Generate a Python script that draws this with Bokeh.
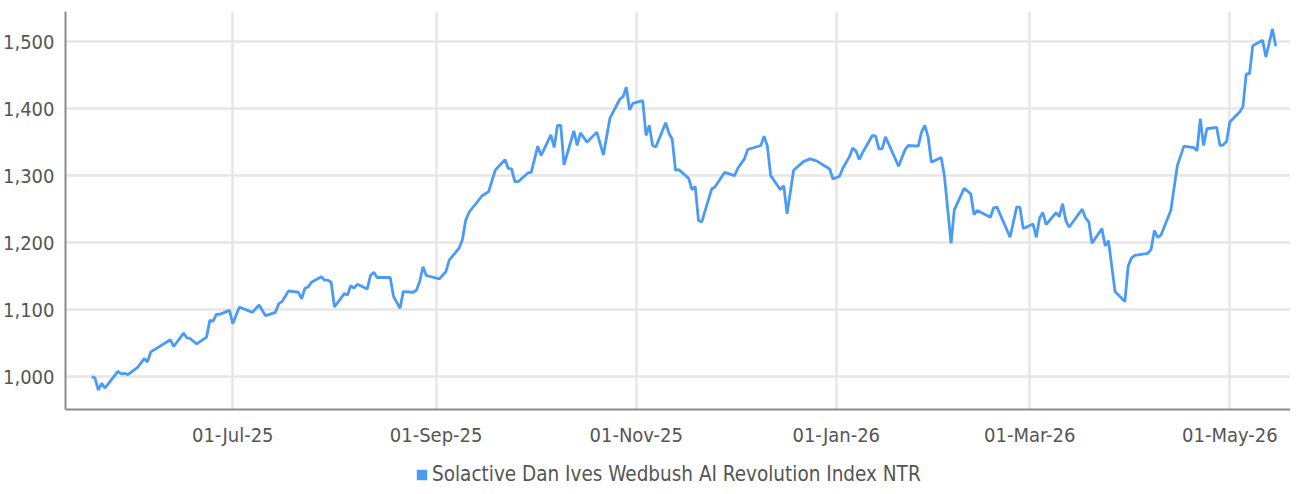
from datetime import datetime
from bokeh.plotting import figure
from bokeh.layouts import column
from bokeh.models import (ColumnDataSource, Range1d, FixedTicker, DatetimeTickFormatter,
                          NumeralTickFormatter, Legend, LegendItem)
from bokeh.embed import file_html
from bokeh.resources import INLINE

series_name = "Solactive Dan Ives Wedbush AI Revolution Index NTR"

dates = [
    "2025-05-19", "2025-05-20", "2025-05-21", "2025-05-22", "2025-05-23", "2025-05-27", "2025-05-28",
    "2025-05-29", "2025-05-30", "2025-06-02", "2025-06-04", "2025-06-05", "2025-06-06", "2025-06-12",
    "2025-06-13", "2025-06-16", "2025-06-17", "2025-06-18", "2025-06-20", "2025-06-23", "2025-06-24",
    "2025-06-25", "2025-06-26", "2025-06-27", "2025-06-30", "2025-07-01", "2025-07-03", "2025-07-07",
    "2025-07-09", "2025-07-11", "2025-07-14", "2025-07-15", "2025-07-16", "2025-07-18", "2025-07-21",
    "2025-07-22", "2025-07-23", "2025-07-24", "2025-07-25", "2025-07-28", "2025-07-29", "2025-07-30",
    "2025-07-31", "2025-08-01", "2025-08-04", "2025-08-05", "2025-08-06", "2025-08-07", "2025-08-08",
    "2025-08-11", "2025-08-12", "2025-08-13", "2025-08-14", "2025-08-18", "2025-08-19", "2025-08-21",
    "2025-08-22", "2025-08-25", "2025-08-26", "2025-08-27", "2025-08-28", "2025-08-29", "2025-09-02",
    "2025-09-04", "2025-09-05", "2025-09-08", "2025-09-09", "2025-09-10", "2025-09-11", "2025-09-15",
    "2025-09-17", "2025-09-19", "2025-09-22", "2025-09-23", "2025-09-24", "2025-09-25", "2025-09-26",
    "2025-09-29", "2025-09-30", "2025-10-02", "2025-10-03", "2025-10-06", "2025-10-07", "2025-10-08",
    "2025-10-09", "2025-10-10", "2025-10-13", "2025-10-14", "2025-10-15", "2025-10-17", "2025-10-20",
    "2025-10-22", "2025-10-24", "2025-10-27", "2025-10-28", "2025-10-29", "2025-10-30", "2025-10-31",
    "2025-11-03", "2025-11-04", "2025-11-05", "2025-11-06", "2025-11-07", "2025-11-10", "2025-11-11",
    "2025-11-12", "2025-11-13", "2025-11-14", "2025-11-17", "2025-11-18", "2025-11-19", "2025-11-20",
    "2025-11-21", "2025-11-24", "2025-11-25", "2025-11-28", "2025-12-01", "2025-12-02", "2025-12-04",
    "2025-12-05", "2025-12-09", "2025-12-10", "2025-12-11", "2025-12-12", "2025-12-15", "2025-12-16",
    "2025-12-17", "2025-12-19", "2025-12-22", "2025-12-24", "2025-12-26", "2025-12-30", "2025-12-31",
    "2026-01-02", "2026-01-03", "2026-01-05", "2026-01-06", "2026-01-07", "2026-01-08", "2026-01-09",
    "2026-01-12", "2026-01-13", "2026-01-14", "2026-01-15", "2026-01-16", "2026-01-20", "2026-01-22",
    "2026-01-23", "2026-01-26", "2026-01-27", "2026-01-28", "2026-01-29", "2026-01-30", "2026-02-02",
    "2026-02-03", "2026-02-04", "2026-02-05", "2026-02-06", "2026-02-09", "2026-02-11", "2026-02-12",
    "2026-02-13", "2026-02-17", "2026-02-18", "2026-02-19", "2026-02-23", "2026-02-25", "2026-02-26",
    "2026-02-27", "2026-03-02", "2026-03-03", "2026-03-04", "2026-03-05", "2026-03-06", "2026-03-09",
    "2026-03-10", "2026-03-11", "2026-03-12", "2026-03-13", "2026-03-17", "2026-03-18", "2026-03-19",
    "2026-03-20", "2026-03-23", "2026-03-24", "2026-03-25", "2026-03-27", "2026-03-30", "2026-03-31",
    "2026-04-01", "2026-04-02", "2026-04-06", "2026-04-07", "2026-04-08", "2026-04-09", "2026-04-10",
    "2026-04-13", "2026-04-15", "2026-04-17", "2026-04-20", "2026-04-21", "2026-04-22", "2026-04-23",
    "2026-04-24", "2026-04-27", "2026-04-28", "2026-04-29", "2026-04-30", "2026-05-01", "2026-05-04",
    "2026-05-05", "2026-05-06", "2026-05-07", "2026-05-08", "2026-05-11", "2026-05-12", "2026-05-14",
    "2026-05-15",
]

values = [
    1000, 998, 980, 990, 983, 1008, 1004,
    1005, 1003, 1014, 1027, 1022, 1037, 1055,
    1045, 1065, 1058, 1057, 1049, 1059, 1084,
    1083, 1093, 1093, 1099, 1079, 1104, 1096,
    1107, 1091, 1096, 1109, 1112, 1128, 1126,
    1116, 1132, 1134, 1141, 1149, 1144, 1144,
    1141, 1104, 1124, 1122, 1136, 1132, 1138,
    1131, 1151, 1156, 1148, 1148, 1120, 1102,
    1127, 1126, 1129, 1142, 1164, 1151, 1146,
    1157, 1174, 1192, 1204, 1233, 1245, 1270,
    1276, 1308, 1324, 1311, 1310, 1291, 1291,
    1304, 1305, 1344, 1330, 1361, 1342, 1375,
    1375, 1316, 1367, 1345, 1364, 1350, 1365,
    1331, 1386, 1414, 1418, 1432, 1398, 1408,
    1412, 1360, 1375, 1345, 1343, 1379, 1363,
    1354, 1308, 1309, 1296, 1279, 1284, 1233,
    1231, 1280, 1283, 1305, 1300, 1311, 1325,
    1339, 1345, 1359, 1344, 1300, 1279, 1285,
    1243, 1308, 1321, 1325, 1322, 1310, 1295,
    1299, 1311, 1328, 1341, 1337, 1324, 1334,
    1360, 1359, 1340, 1340, 1358, 1314, 1339,
    1345, 1344, 1365, 1375, 1358, 1320, 1327,
    1299, 1249, 1199, 1249, 1281, 1273, 1242,
    1248, 1238, 1252, 1253, 1208, 1253, 1253,
    1221, 1228, 1208, 1237, 1245, 1227, 1245,
    1239, 1258, 1233, 1223, 1250, 1237, 1231,
    1199, 1221, 1195, 1203, 1127, 1112, 1165,
    1177, 1181, 1184, 1190, 1218, 1208, 1211,
    1248, 1315, 1344, 1342, 1337, 1385, 1345,
    1370, 1372, 1345, 1346, 1351, 1380, 1395,
    1403, 1452, 1452, 1494, 1502, 1477, 1519,
    1493,
]

x_tick_dates = ["2025-07-01", "2025-09-01", "2025-11-01", "2026-01-01", "2026-03-01", "2026-05-01"]
y_ticks = [1000, 1100, 1200, 1300, 1400, 1500]

FONT = "'Liberation Sans Narrow', 'DejaVu Sans Condensed', 'Roboto Condensed', 'DejaVu Sans', sans-serif"
LINE_COLOR = "#4A9BF6"
TEXT_COLOR = "#555555"

xs = [datetime.strptime(d, "%Y-%m-%d") for d in dates]
source = ColumnDataSource(data=dict(x=xs, y=values))

p = figure(width=1290, height=450, x_axis_type="datetime", output_backend="svg",
           toolbar_location=None,
           x_range=Range1d(datetime(2025, 5, 11), datetime(2026, 5, 19, 12)),
           y_range=Range1d(951, 1545),
           min_border_left=58, min_border_right=0, min_border_top=11, min_border_bottom=41)
p.outline_line_color = None
p.background_fill_color = "white"
p.border_fill_color = "white"

p.line("x", "y", source=source, line_color=LINE_COLOR, line_width=2.8)

tick_ms = [datetime.strptime(d, "%Y-%m-%d").timestamp() * 1000 for d in x_tick_dates]
p.xaxis.ticker = FixedTicker(ticks=tick_ms)
fmt = "%d-%b-%y"
p.xaxis.formatter = DatetimeTickFormatter(milliseconds=fmt, seconds=fmt, minsec=fmt, minutes=fmt,
                                          hourmin=fmt, hours=fmt, days=fmt, months=fmt, years=fmt)
p.yaxis.ticker = FixedTicker(ticks=y_ticks)
p.yaxis.formatter = NumeralTickFormatter(format="0,0")

for ax in (p.xaxis, p.yaxis):
    ax.axis_line_color = "#8a8a8a"
    ax.axis_line_width = 2
    ax.major_tick_line_color = None
    ax.minor_tick_line_color = None
    ax.major_label_text_font = FONT
    ax.major_label_text_font_size = "20px"
    ax.major_label_text_color = TEXT_COLOR
p.xaxis.major_label_standoff = 7
p.yaxis.major_label_standoff = 5

p.xgrid.grid_line_color = "#e6e6e6"
p.ygrid.grid_line_color = "#e6e6e6"
p.xgrid.grid_line_width = 2.5
p.ygrid.grid_line_width = 2.5

# legend strip below the chart (its swatch renderer uses the series data but lies outside its view)
lg = figure(width=1290, height=36, x_axis_type="datetime", output_backend="svg", toolbar_location=None,
            x_range=Range1d(0, 1), y_range=Range1d(0, 1),
            x_axis_location=None, y_axis_location=None,
            min_border_left=0, min_border_right=0, min_border_top=0, min_border_bottom=0)
lg.outline_line_color = None
lg.xgrid.visible = False
lg.ygrid.visible = False
sw = lg.quad(left="x", right="x", top="y", bottom="y", source=source,
             fill_color=LINE_COLOR, line_color=None)

legend = Legend(items=[LegendItem(label=series_name, renderers=[sw])],
                orientation="horizontal", location=(350, 0),
                border_line_color=None, background_fill_alpha=0,
                glyph_width=13, glyph_height=13, label_standoff=4,
                label_text_font=FONT, label_text_font_size="20.5px",
                label_text_color=TEXT_COLOR, padding=0, margin=0)
lg.add_layout(legend)

layout = column(p, lg, spacing=0)
open("out.html", "w").write(file_html(layout, INLINE))
